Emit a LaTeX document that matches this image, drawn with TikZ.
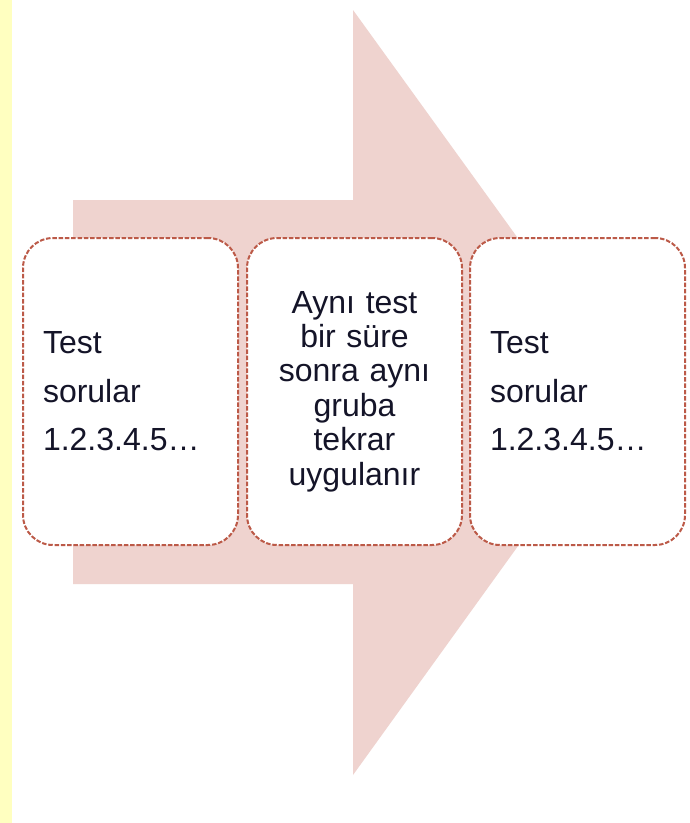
\documentclass[tikz,border=0pt]{standalone}
\usepackage{fontspec}
\setmainfont{Liberation Sans}
\definecolor{arrowfill}{HTML}{EFD3CF}
\definecolor{boxline}{HTML}{BC5A48}
\definecolor{stripyellow}{HTML}{FFFFC0}
\definecolor{txt}{HTML}{141428}
\begin{document}
\begin{tikzpicture}[x=1pt,y=-1pt,
  card/.style={draw=boxline, line width=2pt, dash pattern=on 4.5pt off 1.8pt,
    fill=white, rounded corners=30pt, minimum width=215pt, minimum height=307pt,
    inner xsep=20pt, inner ysep=0pt, text=txt},
  leftcard/.style={card, text width=175pt, align=left,
    font=\fontsize{32}{48.5}\selectfont},
  midcard/.style={card, text width=175pt, align=center,
    font=\fontsize{32}{34.4}\selectfont}]
\useasboundingbox (0,0) rectangle (689,823);
\fill[white] (0,0) rectangle (689,823);
\fill[stripyellow] (0,0) rectangle (12,823);
\fill[arrowfill] (73,200) -- (353,200) -- (353,10) -- (629,392) -- (353,775)
  -- (353,584) -- (73,584) -- cycle;
\node[leftcard] (b1) at (130.5,391.5) {Test\\sorular\\1.2.3.4.5…};
\node[midcard] (b2) at (354.5,391.5) {Aynı test\\bir süre\\sonra aynı\\gruba\\tekrar\\uygulanır};
\node[leftcard] (b3) at (577.5,391.5) {Test\\sorular\\1.2.3.4.5…};
\end{tikzpicture}
\end{document}
